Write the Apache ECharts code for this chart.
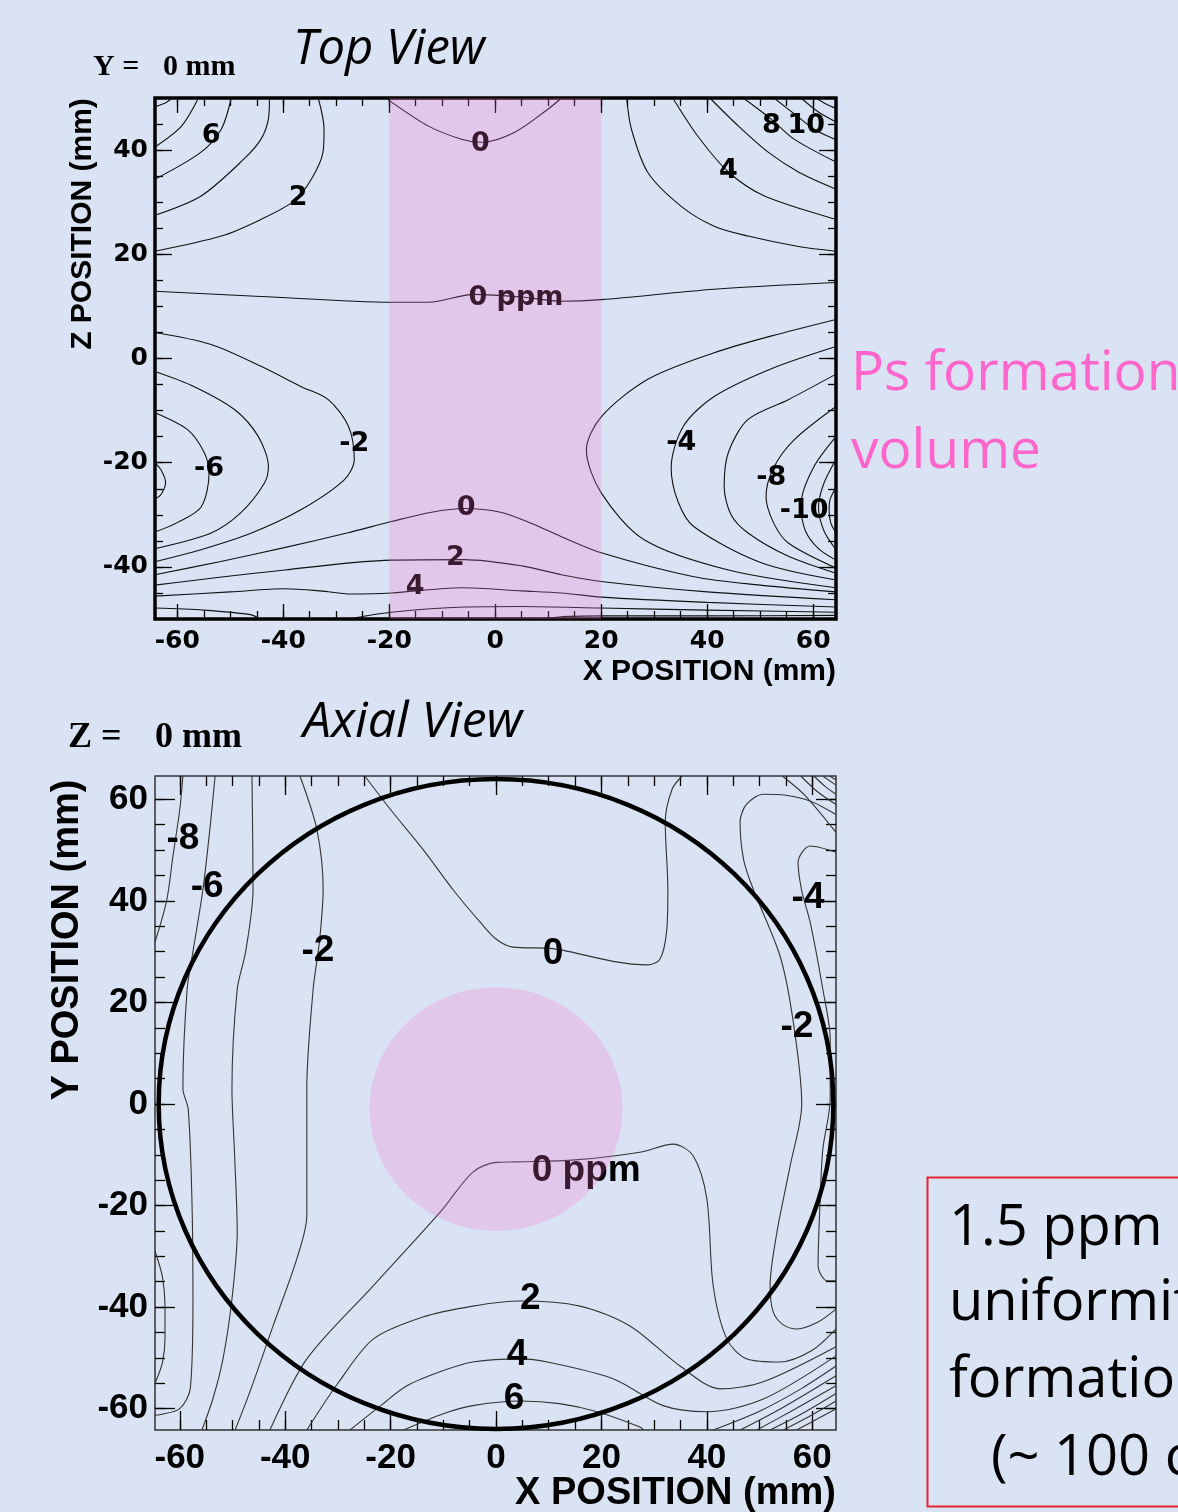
<!DOCTYPE html>
<html><head><meta charset="utf-8">
<script src="https://cdn.jsdelivr.net/npm/echarts@6/dist/echarts.min.js"></script>
<style>html,body{margin:0;padding:0;background:#dae3f3;}#c{width:1178px;height:1512px;}</style>
</head><body><div id="c"></div>
<script>
// ===== Top view (Y = 0 mm): contour lines, points are [X mm, Z mm] =====
const top_p10 = [[-64.2,48.3],[-62,49.2],[-61,50]];
const top_p8  = [[-64.2,40.6],[-59.2,44.6],[-56,50]];
const top_p6  = [[-64.2,34.4],[-55.5,39.6],[-51.7,44],[-49.8,50]];
const top_p4  = [[-64.2,27.5],[-55.5,31.2],[-47.4,38.3],[-44.2,42.1],[-42.8,46],[-42.6,50]];
const top_p2  = [[-64.2,20.6],[-51.7,23.5],[-44.2,26.7],[-38,30.2],[-34.7,34.4],[-32.5,39.6],[-32.3,44],[-33.4,50]];
const top_z1  = [[-20.5,50],[-19.6,49.2],[-12.6,44.6],[-6.4,42.1],[-2.6,41.5],[3.6,43.4],[10,47.9],[12.5,50]];
const top_z2  = [[-64.2,12.9],[-44.2,11.9],[-19.6,10.8],[-12.6,10.8],[-4,12.3],[5,11.8],[12.5,11],[20,11.3],[41.3,13.3],[64.3,14.6]];
const top_r2  = [[24.8,50],[25.7,44],[28.8,35.7],[35.1,29.2],[41.3,25.4],[47.7,23.5],[57.2,21.5],[64.3,20.6]];
const top_r4  = [[33.5,50],[38.2,42.7],[44,35.8],[50.8,31.2],[64.3,26.7]];
const top_r6  = [[40.5,50],[46,44.5],[51.5,39.6],[57.2,35.8],[64.3,32.5]];
const top_r8  = [[46.8,50],[52,46],[56.4,42.1],[64.3,37.7]];
const top_r10 = [[52.6,50],[57,46.5],[60.5,43.8],[64.3,42]];
const top_r12 = [[57.7,50],[61,47.3],[64.3,45.4]];
const top_r14 = [[60.5,50],[62.5,48.8],[64.3,48]];
const top_m2  = [[-64.2,5],[-53.6,2.7],[-44.2,-1.5],[-36.6,-5.4],[-31.5,-7.9],[-27.7,-13],[-26.6,-19.4],[-28.5,-23.3],[-36.6,-29],[-46,-33.5],[-55.5,-36.7],[-64.2,-39]];
const top_m4  = [[-64.2,-2.5],[-56.8,-5.4],[-49.2,-9.8],[-44.7,-15],[-42.8,-20.8],[-43.6,-24],[-48,-29.6],[-53.6,-33.5],[-64.2,-36.5]];
const top_m6  = [[-64.2,-10.4],[-58,-13.7],[-54.9,-18.1],[-54,-22],[-55.5,-28.5],[-60,-31.5],[-64.2,-33.3]];
const top_m8  = [[-64.2,-20],[-63,-21.5],[-62.2,-23.8],[-63,-26],[-64.2,-27]];
const top_b0  = [[-64.2,-41.5],[-52,-39],[-39.8,-36.3],[-28,-33.5],[-19.6,-31.3],[-12,-29.5],[-5.8,-28.8],[1,-29.5],[6,-31.3],[12.5,-34.2],[20,-37.3],[37.5,-41.9],[50,-43.5],[64.3,-44.8]];
const top_b2  = [[-64.2,-43.5],[-39.8,-40.6],[-19.6,-38.7],[-5.8,-38.6],[5,-39.8],[12.5,-41.5],[20,-42.8],[40,-44.8],[64.3,-46.3]];
const top_b4  = [[-64.2,-45.6],[-50,-44.8],[-39.8,-44.2],[-33,-44.6],[-27.2,-45.2],[-19.6,-45],[-6.4,-44],[5,-44.6],[12.5,-45],[20,-45.8],[40,-46.8],[64.3,-47.7]];
const top_b6a = [[-64.2,-47.9],[-55,-48.3],[-46,-49.2],[-44.5,-50]];
const top_b6b = [[-27.7,-50],[-19.6,-48.7],[-5.8,-47.7],[5,-47.6],[20,-47.9],[40,-48.3],[64.3,-48.7]];
const top_b8  = [[8,-50],[14,-49.5],[20,-49.4],[40,-49.4],[64.3,-49.3]];
const top_rm2 = [[64.3,7.5],[52,4.3],[41.3,1.1],[28.8,-4],[20,-11.2],[17.2,-17.5],[20,-25.8],[28.1,-34.8],[44,-40.6],[64.3,-44]];
const top_rm4 = [[64.3,2.3],[52,-2],[41.3,-7.3],[35.5,-13],[33.2,-21],[34.5,-27.5],[37.5,-32.3],[50.2,-39.2],[64.3,-42.5]];
const top_rm6 = [[64.3,-3],[55.3,-7.9],[47.7,-11.7],[44,-18],[43.2,-24.6],[44.5,-30],[47.7,-33.5],[55,-37.8],[64.3,-41.2]];
const top_rm8 = [[64.3,-9.2],[56.4,-15.6],[52.5,-21],[51.1,-26.5],[52.5,-31.5],[55.3,-35.4],[64.3,-40.2]];
const top_rm10 = [[64.3,-15],[60,-21],[57.7,-28],[58.5,-33],[61,-36.5],[64.3,-38.7]];
const top_rm12 = [[64.3,-19.4],[62,-24],[61,-28.5],[62,-33],[64.3,-36.7]];
const top_rm14 = [[64.3,-24.7],[63.2,-27],[63,-29],[63.3,-31.5],[64.3,-33.5]];

const topLabelText = ['6','2','0','0 ppm','8','10','4','-2','-6','0','2','4','-4','-8','-10'];
const topLabelX = [-53.6,-37.2,-2.8,3.9,52.1,58.7,44,-26.6,-54,-5.5,-7.5,-15.1,35.1,52.1,58.3];
const topLabelZ = [42.7,30.8,41.2,11.7,44.6,44.6,36,-16.5,-21.3,-28.7,-38.3,-43.8,-16.2,-22.9,-29.2];

// ===== Axial view (Z = 0 mm): contour lines, points are [X mm, Y mm] =====
const ax_m8a = [[-59.4,64.6],[-60,58],[-61.3,48.8],[-62.5,40],[-64.7,31.9]];
const ax_m8b = [[-64.7,-29],[-63.3,-34],[-62.8,-40],[-62.8,-46],[-63.3,-51],[-64.7,-55]];
const ax_m6  = [[-53.3,64.6],[-54.2,55],[-55.6,42.3],[-57.5,30],[-58.6,22.6],[-59.4,3],[-58.4,-1],[-57.7,-18.7],[-57.5,-38.4],[-58,-56],[-60,-60],[-63.8,-61.2],[-64.7,-61.3]];
const ax_m4  = [[-46.3,64.6],[-46.1,42.3],[-47.5,30],[-49.1,22.6],[-50.1,3],[-49.6,-10],[-49.1,-25.2],[-50.1,-38.4],[-51.8,-50.2],[-53.7,-58],[-55.8,-64.2]];
const ax_m2  = [[-37.2,64.6],[-34,54.1],[-32.8,42.3],[-33.5,32],[-34.7,22.6],[-35.9,3],[-35.9,-22],[-37.8,-30.5],[-42.3,-43.7],[-46.7,-56.7],[-49.5,-64.2]];
const ax_0a  = [[-24.9,64.6],[-20.1,58.1],[-13.9,50.2],[-8,42],[-3,35.8],[0,32.5],[3.2,30.9],[10.8,30.6],[22.2,28.1],[28.7,27.4],[31.1,28.5],[32.4,34.4],[32.6,42.3],[32.1,55.5],[33.4,62],[35.3,64.6]];
const ax_0b  = [[-42.9,-64.2],[-35.9,-50.2],[-23.3,-35.8],[-10.6,-21.3],[-4.4,-13.4],[0,-11.5],[4,-11.4],[15,-11],[27.3,-9.5],[33.6,-7.9],[37.4,-10.2],[40,-18.7],[41.2,-35.8],[43.8,-46.3],[47.6,-50.2],[53.9,-50.8],[60,-48.5],[64.5,-44.3]];
const ax_p2  = [[-35.9,-64.2],[-30,-55],[-23.3,-46.3],[-14,-42],[-4.4,-39.8],[4.6,-38.8],[15.9,-39.8],[25.4,-43.7],[34.9,-51.6],[42.5,-56.1],[50.7,-54.7],[64.5,-47.8]];
const ax_p4  = [[-27.7,-64.2],[-22,-59.5],[-16.9,-55.5],[-10,-52.5],[-4.4,-50.8],[4.6,-50.2],[9.7,-50.8],[22.2,-54.1],[31.7,-59.4],[40,-60.6],[50.7,-58.1],[64.5,-49.6]];
const ax_p6  = [[-17.5,-64.2],[-10,-61],[-4.4,-59.4],[4.6,-58.5],[12,-59],[19.2,-60.6],[27.3,-63.6],[28,-64.2]];
const ax_r2  = [[64.5,57],[60,59.5],[55,60.8],[50.7,61],[47.5,59],[46.3,55.5],[47,48],[48.8,42.3],[53.9,29.1],[56.4,16.1],[58,0],[55.8,-12.2],[53.3,-25.2],[52,-35.8],[52.6,-41],[54.5,-43.5],[57.1,-44.3],[61,-43],[64.5,-40.4]];
const ax_r4  = [[64.5,49.6],[59.6,50.8],[57.3,47.6],[58,42],[59.6,35.8],[62,22.6],[63.4,12.8],[63.4,1],[62,-8.9],[61.5,-18.7],[61.1,-31.9],[62.8,-34.8],[64.5,-34.8]];
const ax_c1  = [[54.3,64.6],[58.6,60.8],[64.5,53.5]];
const ax_c2  = [[57.8,64.6],[61,61.5],[64.5,59]];
const ax_c3  = [[60.3,64.6],[62.5,62.5],[64.5,61]];
const ax_c4  = [[62,64.6],[64.5,62.8]];
const ax_c5  = [[63.3,64.6],[64.5,63.8]];
const ax_b8  = [[41.2,-64.2],[50,-60.5],[58,-56],[64.5,-51.6]];
const ax_b10 = [[46.3,-64.2],[54,-60],[64.5,-53.5]];
const ax_b12 = [[49.5,-64.2],[56,-60.5],[64.5,-55.5]];
const ax_b14 = [[52,-64.2],[58,-61],[64.5,-57]];
const ax_b16 = [[54.5,-64.2],[59.5,-61.5],[64.5,-58.5]];
const ax_b18 = [[57,-64.2],[61,-62],[64.5,-60]];

const axLabelText = ['-8','-6','-2','0','-4','-2','0 ppm','2','4','6'];
const axLabelX = [-59.4,-54.8,-33.8,10.8,59.2,57.1,17.1,6.5,4,3.4];
const axLabelY = [52.2,42.7,30.1,29.5,40.7,15.2,-13.2,-38.4,-49.4,-58.1];

// ===== Regions =====
const psBandX = [-20, 20];          // Ps formation volume in top view (X range, mm)
const psDisk = [0, -1, 24];         // Ps formation volume in axial view [cx, cy, r] mm
const boreCircle = [0, 0, 64];      // bore outline [cx, cy, r] mm

// ===== Ticks =====
const topXMajor = [-60,-40,-20,0,20,40,60];
const topXMinor = [-60,-55,-50,-45,-40,-35,-30,-25,-20,-15,-10,-5,0,5,10,15,20,25,30,35,40,45,50,55,60];
const topYMajor = [-40,-20,0,20,40];
const topYMinor = [-45,-40,-35,-30,-25,-20,-15,-10,-5,0,5,10,15,20,25,30,35,40,45];
const axXMajor = [-60,-40,-20,0,20,40,60];
const axXMinor = [-60,-55,-50,-45,-40,-35,-30,-25,-20,-15,-10,-5,0,5,10,15,20,25,30,35,40,45,50,55,60];
const axYMajor = [-60,-40,-20,0,20,40,60];
const axYMinor = [-60,-55,-50,-45,-40,-35,-30,-25,-20,-15,-10,-5,0,5,10,15,20,25,30,35,40,45,50,55,60];

const topLines = [top_p10,top_p8,top_p6,top_p4,top_p2,top_z1,top_z2,top_r2,top_r4,top_r6,top_r8,top_r10,top_r12,top_r14,
  top_m2,top_m4,top_m6,top_m8,top_b0,top_b2,top_b4,top_b6a,top_b6b,top_b8,top_rm2,top_rm4,top_rm6,top_rm8,top_rm10,top_rm12,top_rm14];
const axLines = [ax_m8a,ax_m8b,ax_m6,ax_m4,ax_m2,ax_0a,ax_0b,ax_p2,ax_p4,ax_p6,ax_r2,ax_r4,ax_c1,ax_c2,ax_c3,ax_c4,ax_c5,
  ax_b8,ax_b10,ax_b12,ax_b14,ax_b16,ax_b18];

const PINK = 'rgba(252,113,209,0.23)';
const AXF = '"Liberation Sans", Arial, sans-serif';
const WIDEF = '"DejaVu Sans", Verdana, sans-serif';

function makeAxes(dim, grid, min, max, majors, minors, majLen, minLen, lblSize, lblMargin, lblFont) {
  const pos = dim === 'x' ? ['bottom','top'] : ['left','right'];
  const base = {type:'value', gridIndex:grid, min:min, max:max, axisLine:{show:false, onZero:false}, splitLine:{show:false}, minorTick:{show:false}};
  const tick = (vals, len) => ({show:true, inside:true, length:len, customValues:vals, lineStyle:{color:'#000', width:1.3}});
  return [
    Object.assign({}, base, {position:pos[0], axisTick:tick(majors, majLen),
      axisLabel:{show:true, customValues:majors, margin:lblMargin, color:'#000', fontSize:lblSize, fontWeight:'bold', fontFamily:lblFont}}),
    Object.assign({}, base, {position:pos[0], axisTick:tick(minors, minLen), axisLabel:{show:false}}),
    Object.assign({}, base, {position:pos[1], axisTick:tick(majors, majLen), axisLabel:{show:false}}),
    Object.assign({}, base, {position:pos[1], axisTick:tick(minors, minLen), axisLabel:{show:false}})
  ];
}

const xAxes = makeAxes('x', 0, -64.2, 64.3, topXMajor, topXMinor, 15, 8, 25, 10, WIDEF)
  .concat(makeAxes('x', 1, -64.7, 64.5, axXMajor, axXMinor, 19, 10, 35, 11, AXF));
const yAxes = makeAxes('y', 0, -50, 50, topYMajor, topYMinor, 17, 8, 25, 7, WIDEF)
  .concat(makeAxes('y', 1, -64.2, 64.6, axYMajor, axYMinor, 20, 10, 35, 7, AXF));

const series = [];
topLines.forEach(function (pts) {
  series.push({type:'line', xAxisIndex:0, yAxisIndex:0, data:pts, showSymbol:false, smooth:0.3, silent:true,
    lineStyle:{color:'#111', width:1.1}, z:2});
});
axLines.forEach(function (pts) {
  series.push({type:'line', xAxisIndex:4, yAxisIndex:4, data:pts, showSymbol:false, smooth:0.3, silent:true,
    lineStyle:{color:'#333', width:1.1}, z:2});
});
function labelSeries(xi, texts, xs, ys, font) {
  return {type:'custom', xAxisIndex:xi, yAxisIndex:xi, z:3, silent:true, clip:false,
    data: xs.map(function (x, i) { return [x, ys[i]]; }),
    renderItem: function (params, api) {
      const c = api.coord([api.value(0), api.value(1)]);
      return {type:'text', x:c[0], y:c[1],
        style:{text:texts[params.dataIndex], font:font, fill:'#000', align:'center', verticalAlign:'middle', textAlign:'center', textVerticalAlign:'middle'}};
    }};
}
series.push(labelSeries(0, topLabelText, topLabelX, topLabelZ, 'bold 27px ' + WIDEF));
series.push(labelSeries(4, axLabelText, axLabelX, axLabelY, 'bold 37px ' + AXF));
// bore circle
series.push({type:'custom', xAxisIndex:4, yAxisIndex:4, z:4, silent:true, clip:false, data:[boreCircle],
  renderItem: function (params, api) {
    const c = api.coord([api.value(0), api.value(1)]);
    const s = api.size([api.value(2), api.value(2)]);
    return {type:'ellipse', shape:{cx:c[0], cy:c[1], rx:s[0], ry:s[1]}, style:{fill:null, stroke:'#000', lineWidth:4.5}};
  }});
// Ps formation volume overlays
series.push({type:'custom', xAxisIndex:0, yAxisIndex:0, z:10, silent:true, data:[psBandX],
  renderItem: function (params, api) {
    const lo = api.coord([api.value(0), 0])[0];
    const hi = api.coord([api.value(1), 0])[0];
    const cs = params.coordSys;
    return {type:'rect', shape:{x:lo, y:cs.y, width:hi - lo, height:cs.height}, style:{fill:PINK}};
  }});
series.push({type:'custom', xAxisIndex:4, yAxisIndex:4, z:10, silent:true, data:[psDisk],
  renderItem: function (params, api) {
    const c = api.coord([api.value(0), api.value(1)]);
    const s = api.size([api.value(2), api.value(2)]);
    return {type:'ellipse', shape:{cx:c[0], cy:c[1], rx:s[0], ry:s[1]}, style:{fill:PINK}};
  }});

function txt(text, x, y, font, opts) {
  opts = opts || {};
  return {type:'text', x:x, y:y, rotation:opts.rot || 0, z:20, silent:true,
    style:{text:text, font:font, fill:opts.fill || '#000', textAlign:opts.align || 'left', textVerticalAlign:'middle'}};
}
const SERIF = '"Liberation Serif", "Times New Roman", serif';
const CAL = '"Open Sans", sans-serif';

const option = {
  backgroundColor:'#dae3f3',
  animation:false,
  grid:[
    {left:155, top:98, width:681, height:521, show:true, borderColor:'#000', borderWidth:3.5, backgroundColor:'transparent', containLabel:false, outerBoundsMode:'none'},
    {left:155, top:776, width:681, height:654, show:true, borderColor:'#333', borderWidth:1.5, backgroundColor:'transparent', containLabel:false, outerBoundsMode:'none'}
  ],
  xAxis:xAxes,
  yAxis:yAxes,
  series:series,
  graphic:{elements:[
    txt('Y =', 93, 67, 'bold 30px ' + SERIF),
    txt('0 mm', 163, 67, 'bold 30px ' + SERIF),
    txt('Top View', 293, 50, 'italic 49px ' + CAL),
    txt('Z POSITION (mm)', 83, 224, 'bold 30px ' + AXF, {rot:Math.PI/2, align:'center'}),
    txt('X POSITION (mm)', 836, 672, 'bold 30px ' + AXF, {align:'right'}),
    txt('Z =', 68, 738, 'bold 36px ' + SERIF),
    txt('0 mm', 155, 738, 'bold 36px ' + SERIF),
    txt('Axial View', 303, 723, 'italic 50px ' + CAL),
    txt('Y POSITION (mm)', 68, 940, 'bold 38px ' + AXF, {rot:Math.PI/2, align:'center'}),
    txt('X POSITION (mm)', 836, 1494, 'bold 38px ' + AXF, {align:'right'}),
    txt('Ps formation', 851, 374, '55px ' + CAL, {fill:'#ff66cc'}),
    txt('volume', 851, 452, '55px ' + CAL, {fill:'#ff66cc'}),
    {type:'rect', z:20, silent:true, shape:{x:927.5, y:1177.5, width:330, height:329}, style:{fill:null, stroke:'#e3262d', lineWidth:2}},
    txt('1.5 ppm', 949, 1229, '56px ' + CAL),
    txt('uniformity', 949, 1304, '56px ' + CAL),
    txt('formation', 949, 1381, '56px ' + CAL),
    txt('(~ 100 cm³)', 991, 1459, '56px ' + CAL)
  ]}
};
const chart = echarts.init(document.getElementById('c'), null, {renderer:'canvas', width:1178, height:1512});
chart.setOption(option);
</script>
</body></html>
